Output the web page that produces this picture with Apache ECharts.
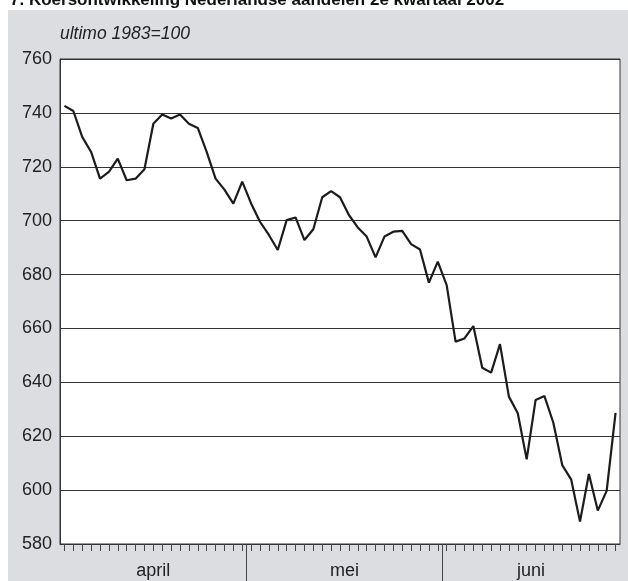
<!DOCTYPE html>
<html>
<head>
<meta charset="utf-8">
<script src="https://cdn.jsdelivr.net/npm/echarts@6/dist/echarts.min.js"></script>
<style>
html,body{margin:0;padding:0;background:#fff;}
#chart{width:628px;height:581px;}
</style>
</head>
<body>
<div id="chart"></div>
<script>
// Trading days (day of month) per month, 2nd quarter 2002
var aprilDays = [2,3,4,5,8,9,10,11,12,15,16,17,18,19,22,23,24,25,26,29,30];
var meiDays = [2,3,6,7,8,9,10,13,14,15,16,17,20,21,22,23,24,27,28,29,30,31];
var juniDays = [3,4,5,6,7,10,11,12,13,14,17,18,19,20,21,24,25,26,27,28];

// Index values (ultimo 1983=100)
var aprilValues = [742.6,740.7,731.1,725.5,715.6,718.1,723.0,715.0,715.6,719.1,736.0,739.4,737.9,739.4,736.0,734.4,725.5,715.6,711.5,706.3,714.5];
var meiValues = [706.4,699.6,694.7,689.1,700.2,701.2,692.8,696.8,708.7,711.0,708.7,702.1,697.5,694.1,686.4,694.1,695.9,696.2,691.3,689.3,677.0,684.8];
var juniValues = [676.1,655.1,656.3,660.9,645.4,643.6,654.2,634.7,628.5,611.4,633.4,634.9,625.0,609.3,604.0,588.3,606.0,592.4,599.7,628.7];

var monthNames = ['april','mei','juni'];
var yTicks = [580,600,620,640,660,680,700,720,740,760];
var titleText = '7. Koersontwikkeling Nederlandse aandelen 2e kwartaal 2002';
var unitText = 'ultimo 1983=100';

var categories = [];
aprilDays.forEach(function(d){categories.push(d+'-4');});
meiDays.forEach(function(d){categories.push(d+'-5');});
juniDays.forEach(function(d){categories.push(d+'-6');});
var values = aprilValues.concat(meiValues, juniValues);

var counts = [aprilDays.length, meiDays.length, juniDays.length];
var bounds = [], mids = [], acc = 0;
counts.forEach(function(c, i){
  mids.push(acc + c/2);
  acc += c;
  if (i < counts.length-1) bounds.push(acc);
});
var total = acc;

var FONT = 'Liberation Sans, Arial, sans-serif';
var chart = echarts.init(document.getElementById('chart'), null, {renderer:'canvas'});
chart.setOption({
  backgroundColor: '#ffffff',
  animation: false,
  graphic: [
    {type:'text', z:-101, left:10, top:-8,
     style:{text:titleText, font:'bold 17px ' + FONT, fill:'#111'}},
    {type:'rect', z:-100, shape:{x:8, y:10, width:640, height:600},
     style:{fill:'#dcdde0'}},
    {type:'text', z:10, left:60, top:25,
     style:{text:unitText, font:'italic 17.5px ' + FONT, fill:'#222'}}
  ],
  grid: {left:60, right:8, top:59, bottom:37, show:true, backgroundColor:'#ffffff',
         borderColor:'#333', borderWidth:1},
  xAxis: [
    {type:'category', data:categories, boundaryGap:true,
     axisLine:{show:true, lineStyle:{color:'#333', width:1}},
     axisTick:{show:true, alignWithLabel:true, interval:0, length:7, lineStyle:{color:'#444', width:1}},
     axisLabel:{show:false}, splitLine:{show:false}},
    {type:'value', min:0, max:total, position:'bottom',
     axisLine:{show:false},
     splitLine:{show:false},
     axisTick:{show:true, customValues:bounds, length:38, lineStyle:{color:'#444', width:1}},
     axisLabel:{show:true, customValues:mids, margin:18, fontSize:18, fontFamily:FONT, color:'#222',
       formatter:function(v, i){
         var k = mids.indexOf(v);
         return k >= 0 ? monthNames[k] : '';
       }}}
  ],
  yAxis: {type:'value', min:yTicks[0], max:yTicks[yTicks.length-1], interval:20,
    axisLine:{show:true, lineStyle:{color:'#333'}},
    axisTick:{show:false},
    axisLabel:{fontSize:18, fontFamily:FONT, color:'#222', margin:8},
    splitLine:{show:true, lineStyle:{color:'#333', width:1}}},
  series: [{
    type:'line', data:values, xAxisIndex:0, yAxisIndex:0,
    showSymbol:false, symbol:'none',
    lineStyle:{color:'#1c1c1c', width:2.2}
  }]
});
</script>
</body>
</html>
